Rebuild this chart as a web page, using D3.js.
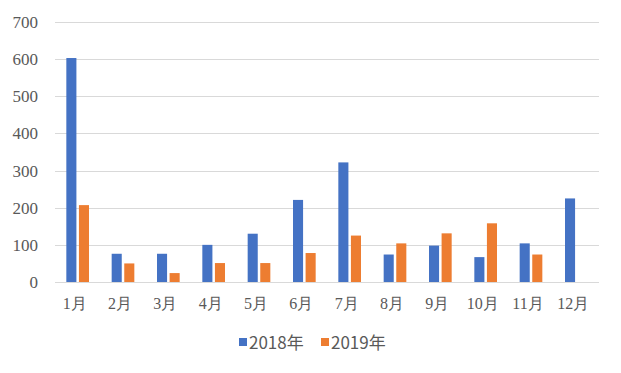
<!DOCTYPE html>
<html>
<head>
<meta charset="utf-8">
<script src="https://cdn.jsdelivr.net/npm/d3@7"></script>
<style>
  body { margin: 0; background: #fff; }
  svg text.serif { font-family: "Times New Roman", "Liberation Serif", serif !important; }
</style>
</head>
<body>
<svg id="chart" width="621" height="373"></svg>
<script>
// data
const months = ["1月", "2月", "3月", "4月", "5月", "6月", "7月", "8月", "9月", "10月", "11月", "12月"];
const seriesNames = ["2018年", "2019年"];
const values2018 = [603, 76, 76, 100, 130, 221, 322, 74, 98, 67, 104, 225];
const values2019 = [207, 50, 24, 51, 51, 78, 125, 104, 131, 158, 74, 0];
const yTicks = [0, 100, 200, 300, 400, 500, 600, 700];
const colors = ["#4472C4", "#ED7D31"];

const svg = d3.select("#chart");
const margin = { top: 22, right: 22, bottom: 91, left: 55 };
const width = 621 - margin.left - margin.right;
const height = 373 - margin.top - margin.bottom;

const rows = months.map((m, i) => ({ month: m, vals: [values2018[i], values2019[i]] }));

const x0 = d3.scaleBand().domain(months).range([0, width]).paddingInner(0.5).paddingOuter(0.25);
const x1 = d3.scaleBand().domain([0, 1]).range([0, x0.bandwidth()]).paddingInner(0.2);
const y = d3.scaleLinear().domain([0, 700]).range([height, 0]);

const g = svg.append("g").attr("transform", `translate(${margin.left},${margin.top})`);

// gridlines
g.selectAll("line.grid")
    .data(yTicks)
    .enter().append("line")
    .attr("class", "grid")
    .attr("x1", 0)
    .attr("x2", width)
    .attr("y1", d => Math.round(y(d)) + 0.5)
    .attr("y2", d => Math.round(y(d)) + 0.5)
    .attr("stroke", "#d9d9d9")
    .attr("stroke-width", 1);

// y labels
g.selectAll("text.ylab")
    .data(yTicks)
    .enter().append("text")
    .attr("class", "ylab serif")
    .attr("x", -17)
    .attr("y", d => y(d))
    .attr("dy", "0.35em")
    .attr("text-anchor", "end")
    .attr("font-family", "Times New Roman")
    .attr("font-size", 17)
    .attr("fill", "#595959")
    .text(d => d);

// bars
const groups = g.selectAll("g.month")
    .data(rows)
    .enter().append("g")
    .attr("class", "month")
    .attr("transform", d => `translate(${x0(d.month)},0)`);

groups.selectAll("rect")
    .data(d => d.vals.map((v, i) => ({ v, i })))
    .enter().append("rect")
    .attr("x", d => x1(d.i))
    .attr("y", d => y(d.v))
    .attr("width", x1.bandwidth())
    .attr("height", d => y(0) - y(d.v))
    .attr("fill", d => colors[d.i]);

// x labels
g.selectAll("text.xlab")
    .data(months)
    .enter().append("text")
    .attr("class", "xlab serif")
    .attr("x", d => x0(d) + x0.bandwidth() / 2 - 3)
    .attr("y", height + 27)
    .attr("text-anchor", "middle")
    .attr("font-family", "Times New Roman")
    .attr("font-size", 16)
    .attr("fill", "#595959")
    .text(d => d);

// legend
const legend = svg.append("g").attr("transform", "translate(239,0)");
const legendX = [0, 82];
seriesNames.forEach((name, i) => {
    legend.append("rect")
        .attr("x", legendX[i])
        .attr("y", 338)
        .attr("width", 8)
        .attr("height", 8)
        .attr("fill", colors[i]);
    legend.append("text")
        .attr("x", legendX[i] + 10)
        .attr("y", 348.5)
        .attr("font-family", "Noto Sans CJK JP")
        .attr("font-size", 17)
        .attr("fill", "#595959")
        .text(name);
});
</script>
</body>
</html>
